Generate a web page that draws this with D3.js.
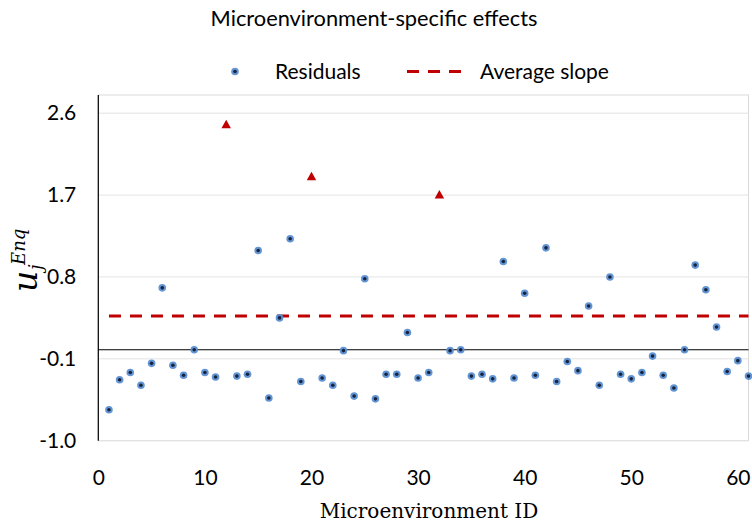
<!DOCTYPE html>
<html>
<head>
<meta charset="utf-8">
<script src="https://cdn.jsdelivr.net/npm/d3@7"></script>
<style>
  html, body { margin: 0; padding: 0; background: #fff; }
  svg { display: block; }
  .sans { font-family: Lato, "Open Sans", sans-serif; fill: #000; }
  .serif { font-family: "DejaVu Serif", "Liberation Serif", serif; fill: #000; }
</style>
</head>
<body>
<svg id="chart" width="752" height="525"></svg>
<script>
// Residual per microenvironment (ID = position + 1); null where the value is flagged as an outlier
const residuals = [
  -0.66, -0.33, -0.25, -0.39, -0.15, 0.68, -0.17, -0.28, 0.00, -0.25,
  -0.30, null, -0.29, -0.27, 1.09, -0.53, 0.35, 1.22, -0.35, null,
  -0.31, -0.39, -0.01, -0.51, 0.78, -0.54, -0.27, -0.27, 0.19, -0.31,
  -0.25, null, -0.01, 0.00, -0.29, -0.27, -0.32, 0.97, -0.31, 0.62,
  -0.28, 1.12, -0.35, -0.13, -0.23, 0.48, -0.39, 0.80, -0.27, -0.32,
  -0.25, -0.07, -0.28, -0.42, 0.00, 0.93, 0.66, 0.25, -0.24, -0.12,
  -0.29
];
// Outlying microenvironments
const outlierIds = [12, 20, 32];
const outlierValues = [2.48, 1.91, 1.71];
// Average slope (horizontal reference)
const averageSlope = 0.37;
// Axis ticks
const xTicks = [0, 10, 20, 30, 40, 50, 60];
const yTicks = [-1.0, -0.1, 0.8, 1.7, 2.6];

const title = "Microenvironment-specific effects";
const xTitle = "Microenvironment ID";
const legendLabels = ["Residuals", "Average slope"];

const fontSize = "21px";

const svg = d3.select("#chart");

const plot = { left: 98.3, right: 748.5, top: 95, bottom: 440.7 };

const x = d3.scaleLinear().domain([0, 61]).range([plot.left, plot.right]);
const y = d3.scaleLinear().domain([-1.0, 2.8]).range([plot.bottom, plot.top]);

const residualPts = residuals
  .map((v, i) => ({ id: i + 1, v }))
  .filter(d => d.v !== null);
const outlierPts = outlierIds.map((id, i) => ({ id, v: outlierValues[i] }));

// Plot area frame
svg.append("rect")
  .attr("x", plot.left).attr("y", plot.top)
  .attr("width", plot.right - plot.left).attr("height", plot.bottom - plot.top)
  .attr("fill", "none").attr("stroke", "#d9d9d9").attr("stroke-width", 1);

// Horizontal gridlines
svg.append("g").selectAll("line")
  .data(yTicks)
  .join("line")
  .attr("x1", plot.left).attr("x2", plot.right)
  .attr("y1", d => y(d)).attr("y2", d => y(d))
  .attr("stroke", "#e3e3e3").attr("stroke-width", 1);

// Y axis (labels only, with a plain vertical line); plain hyphen for negatives
const yAxis = d3.axisLeft(y).tickValues(yTicks).tickFormat(d => d.toFixed(1)).tickSize(0).tickPadding(22);
const gy = svg.append("g").attr("transform", `translate(${plot.left},0)`).call(yAxis);
gy.select(".domain").remove();
gy.selectAll("text").attr("class", "sans").style("font-size", fontSize).attr("fill", "#000");
svg.append("line")
  .attr("x1", plot.left).attr("x2", plot.left)
  .attr("y1", plot.top).attr("y2", plot.bottom)
  .attr("stroke", "#000").attr("stroke-width", 1.2);

// X axis labels along the bottom of the plot area
const xAxis = d3.axisBottom(x).tickValues(xTicks).tickFormat(d3.format("d")).tickSize(0).tickPadding(29);
const gx = svg.append("g").attr("transform", `translate(0,${plot.bottom})`).call(xAxis);
gx.select(".domain").remove();
gx.selectAll("text").attr("class", "sans").style("font-size", fontSize).attr("fill", "#000");

// Horizontal axis crossing at zero
svg.append("line")
  .attr("x1", plot.left).attr("x2", plot.right)
  .attr("y1", y(0)).attr("y2", y(0))
  .attr("stroke", "#000").attr("stroke-width", 1.2);

// Average slope line
svg.append("line")
  .attr("x1", x(1)).attr("x2", x(61))
  .attr("y1", y(averageSlope)).attr("y2", y(averageSlope))
  .attr("stroke", "#c00000").attr("stroke-width", 3)
  .attr("stroke-dasharray", "12,9");

// Residual markers
function residualMarker(sel) {
  sel.append("circle").attr("r", 3.8).attr("fill", "#5b8fd2").attr("opacity", 0.95);
  sel.append("circle").attr("r", 1.8).attr("fill", "#16243f");
}
svg.append("g").selectAll("g")
  .data(residualPts)
  .join("g")
  .attr("transform", d => `translate(${x(d.id)},${y(d.v)})`)
  .call(residualMarker);

// Outlier markers (triangles)
const triW = 9.5, triH = 8.5;
const triPath = `M0,${-triH / 2}L${triW / 2},${triH / 2}L${-triW / 2},${triH / 2}Z`;
svg.append("g").selectAll("path")
  .data(outlierPts)
  .join("path")
  .attr("d", triPath)
  .attr("transform", d => `translate(${x(d.id)},${y(d.v)})`)
  .attr("fill", "#c00000");

// Title
svg.append("text")
  .attr("class", "sans")
  .attr("x", 374).attr("y", 26)
  .attr("text-anchor", "middle")
  .style("font-size", "21.8px")
  .text(title);

// Legend
const legend = svg.append("g");
legend.append("g").attr("transform", "translate(235,71.5)").call(residualMarker);
legend.append("text").attr("class", "sans")
  .attr("x", 275).attr("y", 79).style("font-size", fontSize).text(legendLabels[0]);
legend.append("line")
  .attr("x1", 407).attr("x2", 461).attr("y1", 71.5).attr("y2", 71.5)
  .attr("stroke", "#c00000").attr("stroke-width", 3).attr("stroke-dasharray", "12,9");
legend.append("text").attr("class", "sans")
  .attr("x", 480).attr("y", 79).style("font-size", fontSize).text(legendLabels[1]);

// X axis title
svg.append("text")
  .attr("class", "serif")
  .attr("x", 429).attr("y", 518)
  .attr("text-anchor", "middle")
  .style("font-size", "20px")
  .text(xTitle);

// Y axis title: u with subscript j and superscript Enq, rotated
const yt = svg.append("g").attr("transform", "translate(37,292) rotate(-90)");
yt.append("text").attr("class", "serif")
  .attr("x", 0).attr("y", 0)
  .style("font-size", "33px").style("font-style", "italic")
  .text("u");
yt.append("text").attr("class", "serif")
  .attr("x", 22).attr("y", 5)
  .style("font-size", "18px").style("font-style", "italic")
  .text("j");
yt.append("text").attr("class", "serif")
  .attr("x", 27).attr("y", -12)
  .style("font-size", "18px").style("font-style", "italic")
  .text("Enq");
</script>
</body>
</html>
